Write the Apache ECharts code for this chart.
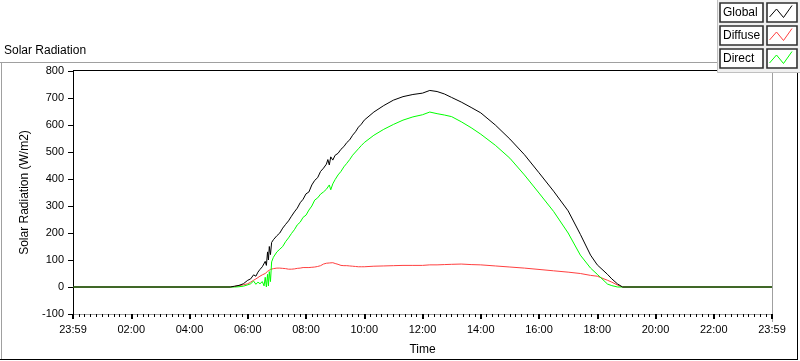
<!DOCTYPE html>
<html>
<head>
<meta charset="utf-8">
<script src="https://cdn.jsdelivr.net/npm/echarts@6/dist/echarts.min.js"></script>
<style>
html,body{margin:0;padding:0;background:#fff;}
#chart{width:800px;height:361px;}
</style>
</head>
<body>
<div id="chart"></div>
<script>
// ---- data (hours of day, W/m2) ----
var times = [0, 5.40, 5.55, 5.70, 5.85, 6.00, 6.10, 6.20, 6.28, 6.35, 6.42, 6.50, 6.56, 6.60, 6.64, 6.68, 6.71, 6.74, 6.78, 6.82, 6.88,
  7.0, 7.1, 7.2, 7.3, 7.4, 7.5, 7.6, 7.7, 7.8, 7.9, 8.0, 8.1, 8.2, 8.3, 8.4, 8.5, 8.6, 8.7, 8.75, 8.8, 8.85, 8.92,
  9.0, 9.1, 9.2, 9.3, 9.4, 9.5, 9.6, 9.7, 9.8, 9.9, 10.00, 10.33, 10.67, 11.00, 11.33, 11.67, 12.00, 12.25, 12.50, 12.75, 13.00,
  13.33, 13.67, 14.00, 14.50, 15.00, 15.50, 16.00, 16.50, 17.00, 17.42, 17.77, 18.00, 18.35, 18.50, 18.70, 18.87, 24];
var globalRad = [0, 0, 3, 6, 12, 25, 30, 45, 40, 55, 65, 75, 70, 95, 80, 130, 100, 150, 120, 165, 175,
  190, 200, 218, 232, 245, 262, 278, 292, 312, 325, 345, 352, 378, 395, 405, 428, 440, 455, 472, 452, 482, 470,
  488, 495, 510, 520, 535, 545, 562, 575, 592, 603, 618, 648, 672, 692, 705, 713, 718, 728, 724, 715, 702,
  685, 665, 645, 600, 548, 490, 423, 355, 282, 195, 118, 82, 47, 30, 11, 0, 0];
var diffuseRad = [0, 0, 2, 5, 8, 12, 18, 25, 30, 35, 40, 45, 48, 50, 55, 58, 60, 62, 65, 68, 68,
  70, 70, 69, 68, 66, 66, 67, 69, 70, 72, 72, 72, 73, 74, 76, 79, 85, 88, 90, 89, 90, 90,
  87, 84, 80, 79, 79, 78, 77, 76, 75, 75, 75, 77, 78, 79, 80, 80, 80, 82, 82, 83, 84,
  85, 83, 82, 78, 74, 70, 65, 60, 55, 50, 43, 40, 25, 18, 7, 0, 0];
var directRad = [0, 0, 0, 1, 3, 8, 12, 22, 10, 18, 12, 20, 4, 36, 0, 47, 4, 57, 20, 93, 110,
  130, 140, 150, 168, 182, 198, 212, 230, 240, 258, 266, 285, 300, 322, 330, 344, 352, 362, 355, 378, 360, 382,
  398, 415, 428, 445, 458, 472, 488, 500, 512, 524, 535, 562, 584, 602, 618, 630, 638, 648, 642, 637, 631,
  612, 590, 566, 525, 477, 415, 348, 280, 200, 118, 70, 47, 11, 5, 0, 0, 0];
var xTickLabels = ['23:59', '02:00', '04:00', '06:00', '08:00', '10:00', '12:00', '14:00', '16:00', '18:00', '20:00', '22:00', '23:59'];
var seriesNames = ['Global', 'Diffuse', 'Direct'];
var seriesColors = ['#000000', '#ff4040', '#00ff00'];

function pairs(vals) { return times.map(function (t, i) { return [t, vals[i]]; }); }

var FONT = 'Liberation Sans';
var chart = echarts.init(document.getElementById('chart'), null, {renderer: 'canvas'});

// legend graphic
var legendEls = [{
  type: 'rect', shape: {x: 717.5, y: -1, width: 84, height: 73.5},
  style: {fill: '#f0f0f0', stroke: '#c0c0c0', lineWidth: 1}, z: 100
}];
seriesNames.forEach(function (name, i) {
  var y0 = [3, 26, 49][i];
  legendEls.push({type: 'rect', shape: {x: 720, y: y0, width: 43, height: 19},
    style: {fill: '#fff', stroke: '#303030', lineWidth: 1.6}, z: 101});
  legendEls.push({type: 'text', style: {x: 723, y: y0 + 10, text: name, fill: '#000',
    font: '12px "' + FONT + '"', textVerticalAlign: 'middle'}, z: 102});
  legendEls.push({type: 'rect', shape: {x: 767, y: y0, width: 30, height: 19},
    style: {fill: '#fff', stroke: '#303030', lineWidth: 1.6}, z: 101});
  legendEls.push({type: 'polyline', shape: {points: [[769.5, y0 + 14], [776.5, y0 + 6], [783.5, y0 + 14.5], [792, y0 + 2.5]]},
    style: {stroke: seriesColors[i], lineWidth: 1, fill: null}, z: 102});
});

var frameEls = [
  {type: 'line', shape: {x1: 0, y1: 62.5, x2: 718, y2: 62.5}, style: {stroke: '#a0a0a0', lineWidth: 1}},
  {type: 'line', shape: {x1: 1.5, y1: 62, x2: 1.5, y2: 360}, style: {stroke: '#a0a0a0', lineWidth: 1}},
  {type: 'line', shape: {x1: 0, y1: 359.5, x2: 798, y2: 359.5}, style: {stroke: '#000', lineWidth: 1}},
  {type: 'line', shape: {x1: 797.5, y1: 60, x2: 797.5, y2: 360}, style: {stroke: '#000', lineWidth: 1}},
  {type: 'line', shape: {x1: 73, y1: 70.5, x2: 773, y2: 70.5}, style: {stroke: '#000', lineWidth: 1}},
  {type: 'line', shape: {x1: 772.5, y1: 71, x2: 772.5, y2: 322}, style: {stroke: '#a0a0a0', lineWidth: 1}}
];

var option = {
  animation: false,
  backgroundColor: '#ffffff',
  textStyle: {fontFamily: FONT},
  title: {text: 'Solar Radiation', left: 4, top: 45, padding: 0,
    textStyle: {fontSize: 12, fontWeight: 'normal', color: '#000', fontFamily: FONT}},
  grid: {left: 73, right: 28, top: 71, bottom: 39, containLabel: false},
  xAxis: {
    type: 'value', min: 0, max: 24, interval: 2,
    name: 'Time', nameLocation: 'middle', nameGap: 30,
    nameTextStyle: {fontSize: 12, color: '#000', fontFamily: FONT},
    axisLine: {show: true, onZero: false, lineStyle: {color: '#a0a0a0', width: 1}},
    axisTick: {show: true, length: 5, lineStyle: {color: '#000', width: 2}},
    minorTick: {show: true, splitNumber: 10, length: 3, lineStyle: {color: '#000', width: 1}},
    axisLabel: {fontSize: 11, color: '#000', margin: 10, fontFamily: FONT,
      formatter: function (v) { return xTickLabels[Math.round(v / 2)]; }},
    splitLine: {show: false}
  },
  yAxis: {
    type: 'value', min: -100, max: 800, interval: 100,
    name: 'Solar Radiation (W/m2)', nameLocation: 'middle', nameGap: 32, nameRotate: 90,
    nameTextStyle: {fontSize: 12, color: '#000', fontFamily: FONT},
    axisLine: {show: true, onZero: false, lineStyle: {color: '#000', width: 1}},
    axisTick: {show: true, length: 5, lineStyle: {color: '#000', width: 1}},
    axisLabel: {fontSize: 11, color: '#000', margin: 9, fontFamily: FONT},
    splitLine: {show: false}
  },
  graphic: frameEls.concat(legendEls),
  series: [
    {name: seriesNames[1], type: 'line', data: pairs(diffuseRad), showSymbol: false, symbol: 'none',
      lineStyle: {color: seriesColors[1], width: 1}, z: 3},
    {name: seriesNames[2], type: 'line', data: pairs(directRad), showSymbol: false, symbol: 'none',
      lineStyle: {color: seriesColors[2], width: 1}, z: 4},
    {name: seriesNames[0], type: 'line', data: pairs(globalRad), showSymbol: false, symbol: 'none',
      lineStyle: {color: seriesColors[0], width: 1}, z: 5}
  ]
};
chart.setOption(option);
</script>
</body>
</html>
